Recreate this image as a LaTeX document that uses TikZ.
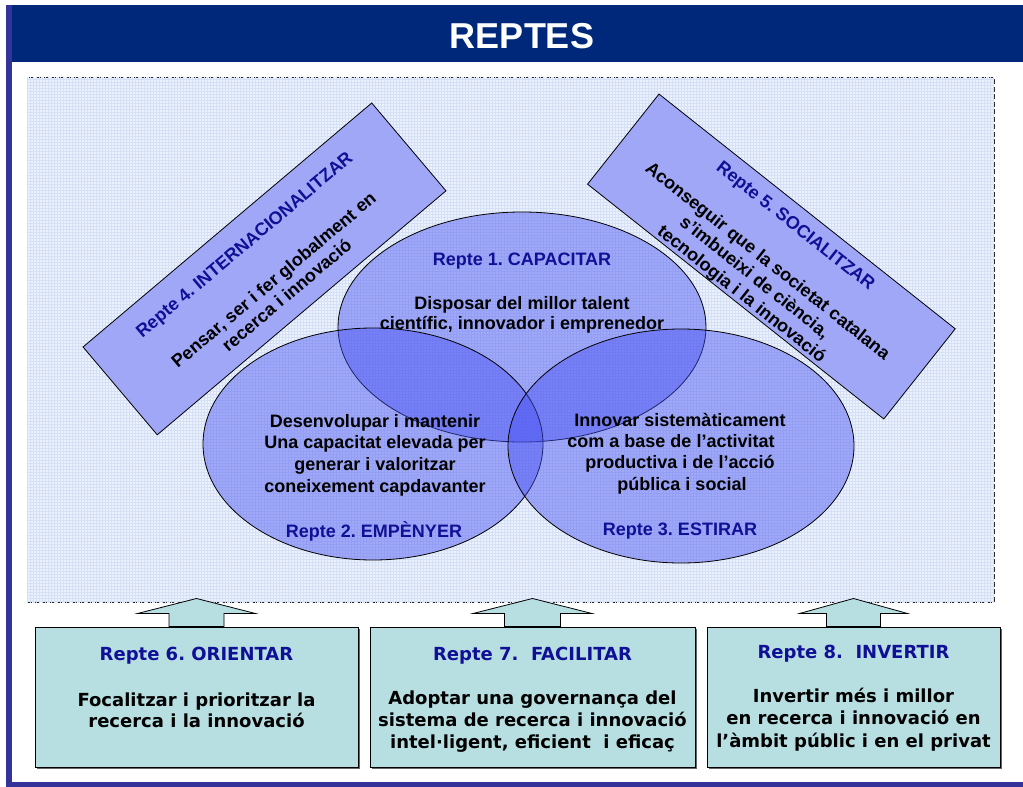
\documentclass[tikz,border=0pt]{standalone}
\usepackage{fontspec}
\setmainfont{Liberation Sans}
\newfontfamily\tahfont{DejaVu Sans}
\usetikzlibrary{shapes.geometric,shadows,calc,patterns}
\definecolor{navybar}{RGB}{0,40,122}
\definecolor{stripecol}{RGB}{51,51,153}
\definecolor{framefill}{RGB}{236,241,251}
\definecolor{framegrid}{RGB}{212,224,246}
\definecolor{ellcol}{RGB}{70,80,242}
\definecolor{rectfill}{RGB}{160,167,247}
\definecolor{boxteal}{RGB}{183,222,225}
\definecolor{bluetxt}{RGB}{16,16,150}
\newcommand\mkbarrow[3]{%
  \draw[barrow] (#1.north) ++(-#2,0) -- ++(0,-13) -- ++({-(#3-#2)},0) -- ++(#3,-15)
    -- ++(#3,15) -- ++({-(#3-#2)},0) -- ++(0,13) -- cycle;}
\begin{document}
\frenchspacing
\begin{tikzpicture}[x=1pt,y=-1pt,
  ut/.style={font=\fontsize{18}{21}\selectfont\bfseries, inner sep=0pt, anchor=base},
  utb/.style={ut, text=bluetxt},
  bt/.style={font=\tahfont\fontsize{18}{21}\selectfont\bfseries, inner sep=0pt, anchor=base},
  btb/.style={bt, text=bluetxt},
  ell/.style={ellipse, draw=black, line width=0.8pt, fill=ellcol, fill opacity=0.45, inner sep=0pt},
  rbox/.style={draw=black, line width=0.8pt, fill=rectfill, inner sep=0pt, minimum width=378pt, minimum height=115pt},
  bbox/.style={draw=black, line width=1pt, fill=boxteal, inner sep=0pt, minimum height=140pt,
     drop shadow={shadow xshift=2pt, shadow yshift=-2pt, fill=black!60, opacity=1}},
  barrow/.style={draw=black, line width=0.8pt, fill=boxteal}]
\useasboundingbox (0,0) rectangle (1023,787);
\fill[white] (0,0) rectangle (1023,787);
% frame stripes
\fill[stripecol] (6,5) rectangle (12,787);
\fill[stripecol] (6,782) rectangle (1023,787);
\node[fill=navybar, minimum width=1011pt, minimum height=57pt, inner sep=0pt] (bar) at (517.5,33.5) {};
\node[font=\fontsize{36}{40}\selectfont\bfseries, text=white, inner sep=0pt, anchor=base] (title) at (522,48) {REPTES};
% dashed area
\node[draw=black!85, line width=0.9pt, dash pattern=on 5pt off 2.5pt, fill=framefill, minimum width=967pt, minimum height=525pt, inner sep=0pt,
   postaction={pattern=grid, pattern color=framegrid}] (frame) at (510.5,339.5) {};
% rotated boxes
\node[rbox, rotate=40.2] (r4) at (264.5,268.9) {};
\node[rbox, rotate=-38.4] (r5) at (771.4,256.5) {};
% ellipses
\node[ell, minimum width=368pt, minimum height=230pt] (e1) at (522,327) {};
\node[ell, minimum width=340pt, minimum height=232pt] (e2) at (373,444) {};
\node[ell, minimum width=346pt, minimum height=234pt] (e3) at (681,446) {};
% ellipse texts
\node[utb] (e1t) at (522,265) {Repte 1. CAPACITAR};
\node[ut] (e1a) at (522,309) {Disposar del millor talent};
\node[ut] (e1b) at (522,329) {científic, innovador i emprenedor};
\node[ut] (e2a) at (375,427) {Desenvolupar i mantenir};
\node[ut] (e2b) at (375,448) {Una capacitat elevada per};
\node[ut] (e2c) at (375,470) {generar i valoritzar};
\node[ut] (e2d) at (375,492) {coneixement capdavanter};
\node[utb] (e2t) at (374,537) {Repte 2. EMPÈNYER};
\node[ut] (e3a) at (680,426) {Innovar sistemàticament};
\node[ut] (e3b) at (671,447) {com a base de l’activitat};
\node[ut] (e3c) at (680,468) {productiva i de l’acció};
\node[ut] (e3d) at (682,490) {pública i social};
\node[utb] (e3t) at (680,535) {Repte 3. ESTIRAR};
% rotated texts
\node[utb, rotate=40.2] (r4t) at (248.1,249.4) {Repte 4. INTERNACIONALITZAR};
\node[ut, rotate=40.2] (r4a) at (277.7,284.6) {Pensar, ser i fer globalment en};
\node[ut, rotate=40.2] (r4b) at (290.7,299.9) {recerca i innovació};
\node[utb, rotate=-38.4] (r5t) at (792.2,230.2) {Repte 5. SOCIALITZAR};
\node[ut, rotate=-38.4] (r5a) at (764.2,265.5) {Aconseguir que la societat catalana};
\node[ut, rotate=-38.4] (r5b) at (751.2,281.9) {s’imbueixi de ciència,};
\node[ut, rotate=-38.4] (r5c) at (738.2,298.4) {tecnologia i la innovació};
% bottom boxes
\node[bbox, minimum width=323pt] (b6) at (196.5,697) {};
\node[bbox, minimum width=325pt] (b7) at (532.5,697) {};
\node[bbox, minimum width=293pt] (b8) at (853.5,697) {};
\mkbarrow{b6}{27.5}{59}
\mkbarrow{b7}{28}{59.5}
\mkbarrow{b8}{27}{54}
\node[btb] (b6t) at (196.5,660) {Repte 6. ORIENTAR};
\node[bt] (b6a) at (196.5,706) {Focalitzar i prioritzar la};
\node[bt] (b6b) at (196.5,727) {recerca i la innovació};
\node[btb] (b7t) at (532.5,660) {Repte 7.\ \ FACILITAR};
\node[bt] (b7a) at (532.5,704) {Adoptar una governança del};
\node[bt] (b7b) at (532.5,726) {sistema de recerca i innovació};
\node[bt] (b7c) at (532.5,748) {intel·ligent, eficient\ \ i eficaç};
\node[btb] (b8t) at (853.5,658) {Repte 8.\ \ INVERTIR};
\node[bt] (b8a) at (853.5,702) {Invertir més i millor};
\node[bt] (b8b) at (853.5,724) {en recerca i innovació en};
\node[bt] (b8c) at (853.5,747) {l’àmbit públic i en el privat};
\end{tikzpicture}
\end{document}
